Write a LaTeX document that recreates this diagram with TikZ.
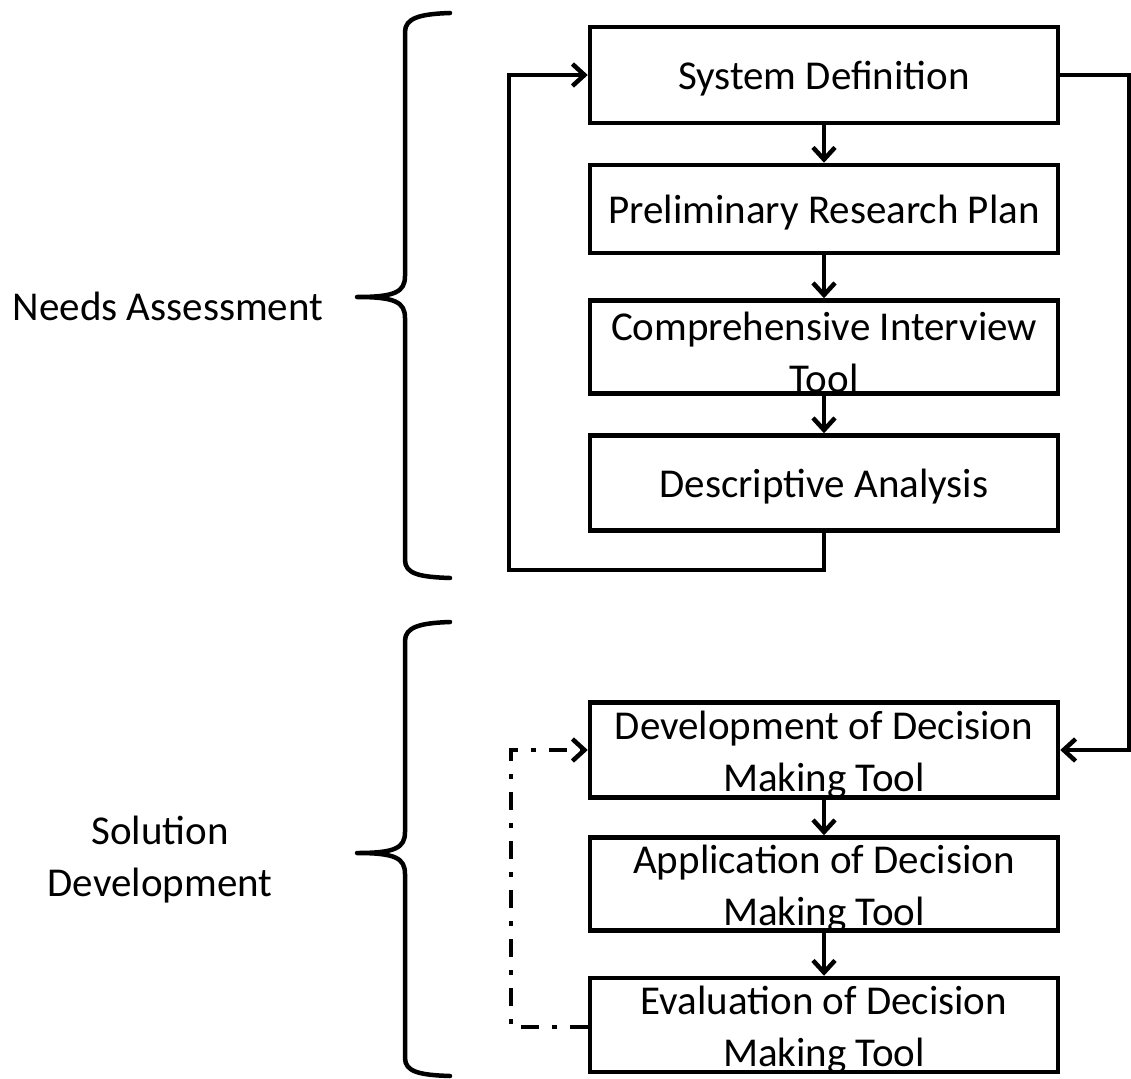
\documentclass[tikz,border=0pt]{standalone}
\usepackage{fontspec}
\setmainfont{Carlito}
\usetikzlibrary{arrows.meta}
\begin{document}
\begin{tikzpicture}[x=1pt,y=-1pt,
  line width=4.5pt,
  stage/.style={draw, rectangle, minimum width=468pt, inner sep=0pt},
  lbl/.style={align=center, inner sep=0pt, font=\fontsize{41}{52}\selectfont},
  flow/.style={-{Straight Barb[length=12pt,width=22pt,line width=4.5pt]}},
  brace/.style={line width=4.5pt, line cap=round, line join=round},
  dashdot/.style={dash pattern=on 18pt off 13pt on 5pt off 13pt}]
\useasboundingbox (0,0) rectangle (1131,1078);

% Needs assessment stages
\node[stage, minimum height=96pt] (sd)  at (824,75)  {};
\node[stage, minimum height=88pt] (prp) at (824,209) {};
\node[stage, minimum height=93pt] (cit) at (824,347) {};
\node[stage, minimum height=95pt] (da)  at (824,483) {};

% Solution development stages
\node[stage, minimum height=95pt] (dev) at (824,750) {};
\node[stage, minimum height=93pt] (app) at (824,884) {};
\node[stage, minimum height=94pt] (ev)  at (824,1025) {};

% Stage titles
\node[lbl] (sdt)  at ([yshift=-4pt]sd.center)  {System Definition};
\node[lbl] (prpt) at ([yshift=-4pt]prp.center) {Preliminary Research Plan};
\node[lbl] (citt) at ([yshift=-5pt]cit.center) {Comprehensive Interview\\Tool};
\node[lbl] (dat)  at ([yshift=-4pt]da.center)  {Descriptive Analysis};
\node[lbl] (devt) at ([yshift=-5pt]dev.center) {Development of Decision\\Making Tool};
\node[lbl] (appt) at ([yshift=-5pt]app.center) {Application of Decision\\Making Tool};
\node[lbl] (evt)  at ([yshift=-5pt]ev.center)  {Evaluation of Decision\\Making Tool};

% Forward flow
\draw[flow] (sd) -- (prp);
\draw[flow] (prp) -- (cit);
\draw[flow] (cit) -- (da);
\draw[flow] (dev) -- (app);
\draw[flow] (app) -- (ev);

% Feedback loop from the analysis back to the definition
\coordinate (fb1) at (824,570);
\coordinate (fb2) at (509,570);
\coordinate (fb3) at (509,75);
\draw[flow] (da.south) -- (fb1) -- (fb2) -- (fb3) -- (sd.west);

% Link from the definition down to tool development
\coordinate (rl1) at (1129,75);
\coordinate (rl2) at (1129,750);
\draw[flow] (sd.east) -- (rl1) -- (rl2) -- (dev.east);

% Evaluation feeding back into development
\coordinate (ev1) at (511,1027);
\coordinate (ev2) at (511,750);
\draw[flow, dashdot] (ev.west |- ev1) -- (ev1) -- (ev2) -- (dev.west);

% Braces
\draw[brace] (450,13) .. controls (420,14) and (405,18) .. (405,32)
  -- (405,276) .. controls (405,292) and (395,297) .. (357,297)
  .. controls (395,297) and (405,302) .. (405,318)
  -- (405,560) .. controls (405,574) and (420,577) .. (450,578);
\draw[brace] (450,622) .. controls (420,623) and (405,627) .. (405,641)
  -- (405,832) .. controls (405,848) and (395,853) .. (357,853)
  .. controls (395,853) and (405,858) .. (405,874)
  -- (405,1058) .. controls (405,1072) and (420,1075) .. (450,1076);

\node[lbl] (na) at (168,306) {Needs Assessment};
\node[lbl] (sdv) at (160,860) {Solution\\Development};
\end{tikzpicture}
\end{document}
